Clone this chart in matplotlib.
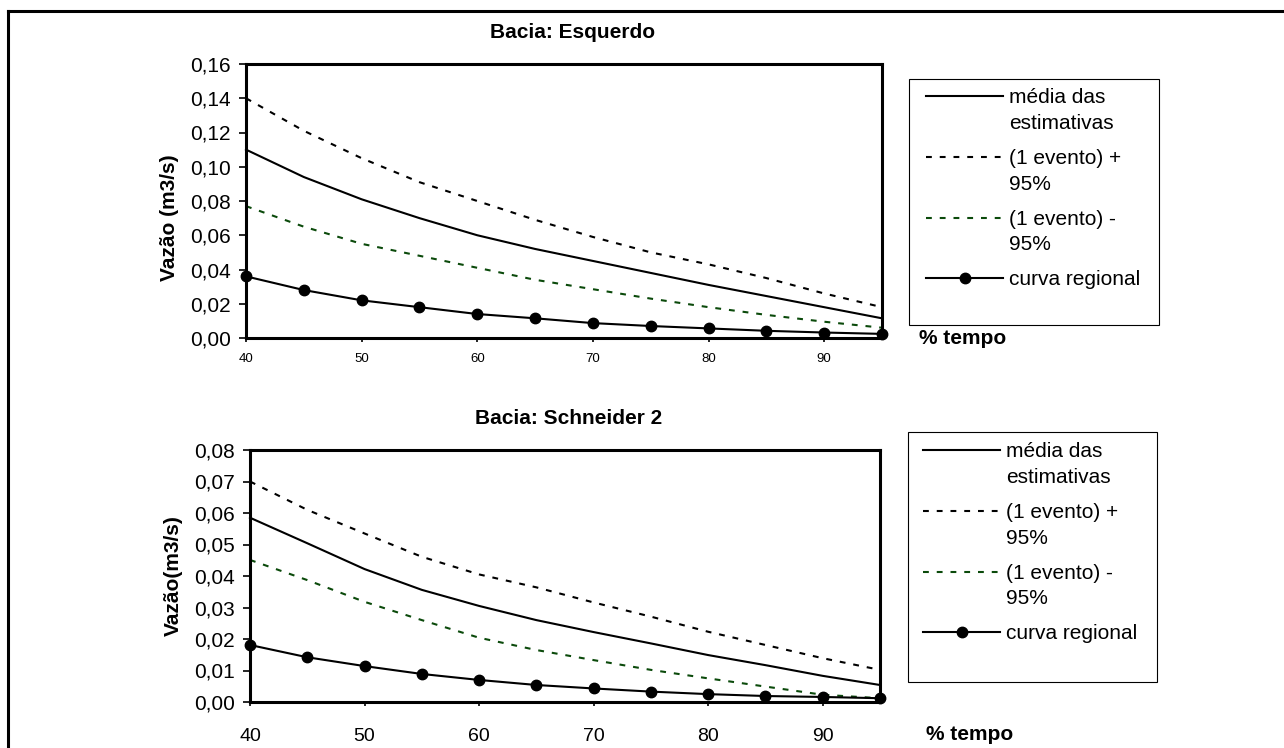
import numpy as np
import matplotlib
matplotlib.use('Agg')
import matplotlib.pyplot as plt
from matplotlib.lines import Line2D
from matplotlib.patches import Rectangle
from matplotlib.legend_handler import HandlerLine2D

plt.rcParams['font.family'] = ['Liberation Sans', 'DejaVu Sans']

# % do tempo (eixo x), igual nas duas bacias
pct_tempo = [40, 45, 50, 55, 60, 65, 70, 75, 80, 85, 90, 95]

# Bacia: Esquerdo
media_esq = [0.110, 0.094, 0.081, 0.070, 0.060, 0.052, 0.045, 0.038, 0.031, 0.0245, 0.018, 0.0115]
mais95_esq = [0.140, 0.121, 0.105, 0.091, 0.080, 0.069, 0.059, 0.050, 0.043, 0.035, 0.026, 0.018]
menos95_esq = [0.077, 0.065, 0.055, 0.048, 0.041, 0.034, 0.0285, 0.023, 0.018, 0.0135, 0.0095, 0.006]
regional_esq = [0.036, 0.028, 0.022, 0.018, 0.014, 0.0115, 0.0087, 0.007, 0.0056, 0.0042, 0.0032, 0.0024]

# Bacia: Schneider 2
media_sch = [0.0585, 0.0504, 0.0422, 0.0356, 0.0305, 0.026, 0.0222, 0.0186, 0.0149, 0.0117, 0.0083, 0.0054]
mais95_sch = [0.070, 0.061, 0.0535, 0.0461, 0.0405, 0.0364, 0.0316, 0.0271, 0.0223, 0.0181, 0.0139, 0.0102]
menos95_sch = [0.0451, 0.0387, 0.0318, 0.026, 0.0204, 0.0165, 0.0133, 0.0102, 0.0075, 0.0049, 0.0023, 0.0012]
regional_sch = [0.0181, 0.0142, 0.0114, 0.0089, 0.007, 0.0054, 0.0043, 0.0033, 0.0025, 0.0019, 0.0016, 0.0012]

xticks = [40, 50, 60, 70, 80, 90]
xtick_labels = ['40', '50', '60', '70', '80', '90']
yticks_esq = [0.0, 0.02, 0.04, 0.06, 0.08, 0.10, 0.12, 0.14, 0.16]
ytick_labels_esq = ['0,00', '0,02', '0,04', '0,06', '0,08', '0,10', '0,12', '0,14', '0,16']
yticks_sch = [0.0, 0.01, 0.02, 0.03, 0.04, 0.05, 0.06, 0.07, 0.08]
ytick_labels_sch = ['0,00', '0,01', '0,02', '0,03', '0,04', '0,05', '0,06', '0,07', '0,08']

legend_labels = ['média das\nestimativas', '(1 evento) +\n95%', '(1 evento) -\n95%', 'curva regional']

W, H = 1284, 748
GREEN = '#0b4a0b'
FS = 15


def fig_rect(left, top, right, bottom):
    """ pixel box -> figure fraction [l, b, w, h] """
    return [left / W, 1 - bottom / H, (right - left) / W, (bottom - top) / H]


class FirstLineHandler(HandlerLine2D):
    """ legend handle aligned with the first line of a two-line label (Excel style) """
    def __init__(self, shift=0.0, **kw):
        super().__init__(**kw)
        self.shift = shift

    def create_artists(self, legend, orig_handle, xdescent, ydescent, width, height, fontsize, trans):
        artists = super().create_artists(legend, orig_handle, xdescent, ydescent, width, height, fontsize, trans)
        for a in artists:
            a.set_ydata(np.asarray(a.get_ydata(), dtype=float) + self.shift * fontsize)
        return artists


def draw_panel(fig, rect, media, mais95, menos95, regional, yticks, ytick_labels,
               ylabel, ylabel_y, xtick_size, xtick_pad, title, title_xy, leg_xy, leg_box, tempo_xy):
    ax = fig.add_axes(fig_rect(*rect))
    kw = dict(lw=1.5, clip_on=False)
    l1, = ax.plot(pct_tempo, media, color='black', **kw)
    l2, = ax.plot(pct_tempo, mais95, color='black', dashes=(2.8, 3.8), **kw)
    l3, = ax.plot(pct_tempo, menos95, color=GREEN, dashes=(2.8, 3.8), **kw)
    l4, = ax.plot(pct_tempo, regional, color='black', marker='o', markersize=7.5, zorder=5, **kw)

    ax.set_xlim(40, 95)
    ax.set_ylim(yticks[0], yticks[-1])
    ax.set_xticks(xticks)
    ax.set_xticklabels(xtick_labels, fontsize=xtick_size)
    ax.set_yticks(yticks)
    ax.set_yticklabels(ytick_labels, fontsize=FS)
    ax.tick_params(axis='y', direction='out', length=5, width=1.2, pad=6)
    ax.tick_params(axis='x', direction='out', length=3, width=1.2, pad=xtick_pad)
    for s in ax.spines.values():
        s.set_linewidth(2.2)
    ax.set_ylabel(ylabel, fontsize=FS, fontweight='bold', labelpad=8)
    ax.yaxis.label.set_y(ylabel_y)

    fig.text(title_xy[0] / W, 1 - title_xy[1] / H, title, fontsize=FS, fontweight='bold',
             ha='center', va='center')
    fig.text(tempo_xy[0] / W, 1 - tempo_xy[1] / H, '% tempo', fontsize=FS, fontweight='bold',
             ha='left', va='center')

    hmap = {l1: FirstLineHandler(0.68), l2: FirstLineHandler(0.68), l3: FirstLineHandler(0.68),
            l4: FirstLineHandler(0.0)}
    leg = ax.legend([l1, l2, l3, l4], legend_labels, loc='upper left',
                    bbox_to_anchor=(leg_xy[0] / W, 1 - leg_xy[1] / H), bbox_transform=fig.transFigure,
                    frameon=False, borderpad=0, borderaxespad=0, handlelength=3.7, handletextpad=0.29,
                    labelspacing=0.77, fontsize=FS, numpoints=1, handler_map=hmap)
    for t in leg.get_texts():
        t.set_linespacing(1.45)
    bx = fig_rect(*leg_box)
    fig.add_artist(Rectangle((bx[0], bx[1]), bx[2], bx[3], transform=fig.transFigure,
                             fill=False, edgecolor='black', lw=0.8))
    return ax


fig = plt.figure(figsize=(W / 100, H / 100), dpi=100)

draw_panel(fig, (246, 64, 882, 338), media_esq, mais95_esq, menos95_esq, regional_esq,
           yticks_esq, ytick_labels_esq, 'Vazão (m3/s)', 0.44, 9.5, 8, 'Bacia: Esquerdo',
           (573, 33), (926, 88), (909, 79, 1159, 325), (919, 339))
draw_panel(fig, (250, 450, 880, 702), media_sch, mais95_sch, menos95_sch, regional_sch,
           yticks_sch, ytick_labels_sch, 'Vazão(m3/s)', 0.5, 14, 16, 'Bacia: Schneider 2',
           (569, 419), (923, 442), (908, 432, 1157, 682), (926, 735))

# moldura externa (só topo e lado esquerdo aparecem)
fig.add_artist(Line2D([8 / W, 1], [1 - 11 / H, 1 - 11 / H], transform=fig.transFigure,
                      color='black', lw=2.2))
fig.add_artist(Line2D([8 / W, 8 / W], [1 - 11 / H, 0], transform=fig.transFigure,
                      color='black', lw=2.2))

fig.savefig('out.png', dpi=100)
